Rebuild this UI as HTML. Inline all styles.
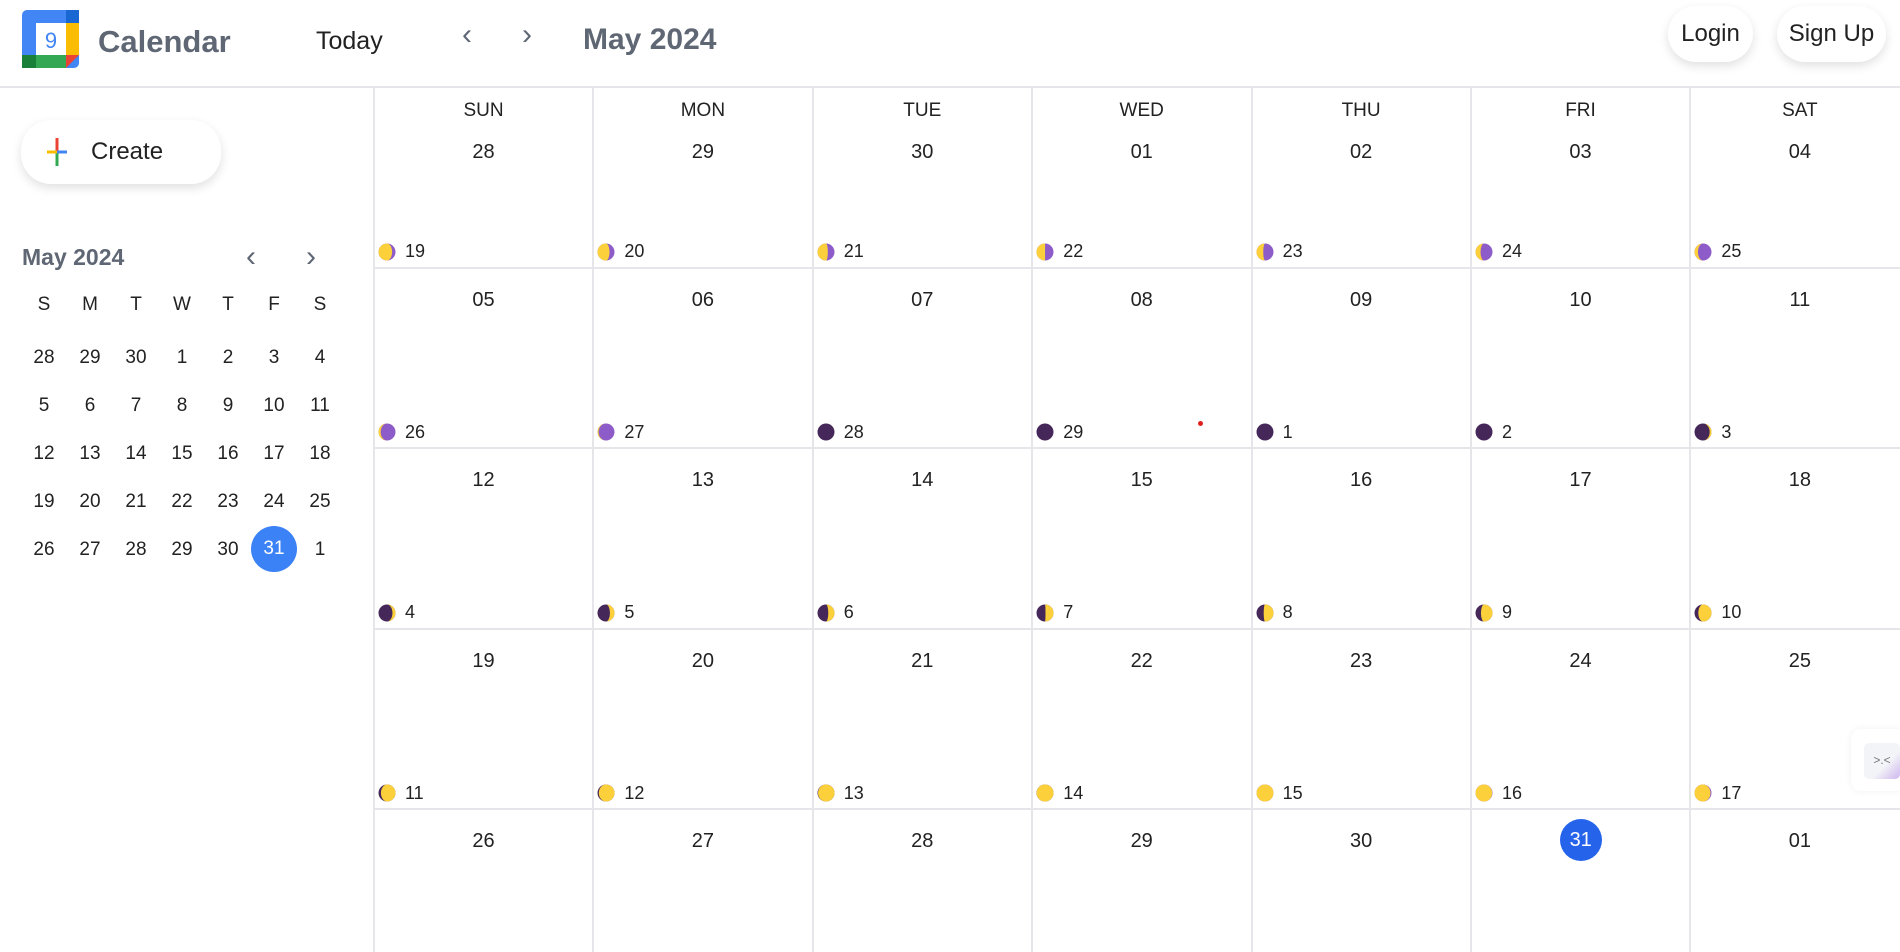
<!DOCTYPE html>
<html><head><meta charset="utf-8"><style>
*{box-sizing:border-box;margin:0;padding:0}
body{width:1900px;height:952px;overflow:hidden;background:#fff;font-family:"Liberation Sans",sans-serif;color:#222;position:relative}
.abs{position:absolute}
.hdr-line{left:0;top:86px;width:1900px;height:2px;background:#e6e6ea}
.pill{background:#fff;border-radius:30px;box-shadow:0 4px 10px rgba(0,0,0,.12);display:flex;align-items:center;justify-content:center;color:#222}
.vl{position:absolute;width:2px;background:#e6e6ea}
.hl{position:absolute;height:2px;background:#e6e6ea}
.cell-date{position:absolute;width:219px;text-align:center;font-size:20px;color:#222}
.dayname{position:absolute;width:219px;text-align:center;font-size:19px;color:#222;top:100px}
.moon{position:absolute;display:flex;align-items:center;font-size:18px;color:#222}
.moon svg{margin-right:9px}
.mini{position:absolute;width:40px;text-align:center;font-size:19px;color:#222}
</style></head><body>
<div class="abs" style="left:22px;top:10px;width:57px;height:58px">
<svg width="57" height="58" viewBox="0 0 57 58"><rect x="0" y="0" width="57" height="58" rx="5" fill="#4285f4"/><rect x="44" y="0" width="13" height="13" fill="#1967d2"/><rect x="44" y="13" width="13" height="32" fill="#fbbc04"/><rect x="0" y="45" width="14" height="13" fill="#188038"/><rect x="14" y="45" width="30" height="13" fill="#34a853"/><polygon points="44,45 57,45 44,58" fill="#ea4335"/><rect x="14" y="13" width="30" height="32" fill="#fff"/><text x="29" y="38" font-size="22" text-anchor="middle" fill="#4285f4" font-family="Liberation Sans">9</text></svg></div>
<div class="abs" style="left:98px;top:24px;font-size:31px;font-weight:bold;color:#5f6775">Calendar</div>
<div class="abs" style="left:316px;top:27px;font-size:25px;color:#222">Today</div>
<div class="abs" style="left:462px;top:18px;font-size:30px;color:#5f6775">&#8249;</div>
<div class="abs" style="left:522px;top:18px;font-size:30px;color:#5f6775">&#8250;</div>
<div class="abs" style="left:583px;top:23px;font-size:30px;font-weight:bold;color:#5f6775">May 2024</div>
<div class="abs pill" style="left:1668px;top:6px;width:85px;height:56px;font-size:24px">Login</div>
<div class="abs pill" style="left:1777px;top:6px;width:109px;height:56px;font-size:24px">Sign Up</div>
<div class="abs hdr-line"></div>

<div class="abs pill" style="left:21px;top:120px;width:200px;height:64px;justify-content:flex-start;padding-left:26px;font-size:24px">
<svg width="20" height="28" viewBox="0 0 20 28" style="margin-right:24px"><rect x="8.5" y="0" width="3" height="14" fill="#ea4335"/><rect x="8.5" y="14" width="3" height="14" fill="#34a853"/><rect x="0" y="12.5" width="10" height="3" fill="#fbbc04"/><rect x="10" y="12.5" width="10" height="3" fill="#4285f4"/></svg>Create</div>
<div class="abs" style="left:22px;top:244px;font-size:23px;font-weight:bold;color:#5f6775">May 2024</div>
<div class="abs" style="left:246px;top:240px;font-size:30px;color:#5f6775">&#8249;</div>
<div class="abs" style="left:306px;top:240px;font-size:30px;color:#5f6775">&#8250;</div>
<div id="mini"></div>
<div id="grid"></div>
<div class="abs" style="left:1198px;top:421px;width:5px;height:5px;border-radius:50%;background:#e02020"></div>
<div class="abs" style="left:1851px;top:729px;width:49px;height:62px;background:#fff;border-radius:10px 0 0 10px;box-shadow:0 0 8px rgba(0,0,0,.06)">
<div style="position:absolute;left:13px;top:14px;width:36px;height:36px;border-radius:5px;background:linear-gradient(135deg,#f3f4f8 60%,#cdb6ee);color:#777;font-size:12px;text-align:center;line-height:34px">&gt;.&lt;</div></div>
<script>
const dayNames=["SUN","MON","TUE","WED","THU","FRI","SAT"];
const dates=["28","29","30","01","02","03","04","05","06","07","08","09","10","11","12","13","14","15","16","17","18","19","20","21","22","23","24","25","26","27","28","29","30","31","01"];
const moonAges=[19,20,21,22,23,24,25,26,27,28,29,1,2,3,4,5,6,7,8,9,10,11,12,13,14,15,16,17,null,null,null,null,null,null,null];
const todayIndex=33;
const miniLetters=["S","M","T","W","T","F","S"];
const miniDays=[28,29,30,1,2,3,4,5,6,7,8,9,10,11,12,13,14,15,16,17,18,19,20,21,22,23,24,25,26,27,28,29,30,31,1];
const miniSelected=33;

const GX=374,CW=219.4,GY=87,RH=180.5;
const colX=c=>GX+c*CW;
const rowY=r=>GY+r*RH;
const grid=document.getElementById('grid');
function add(parent,html,cls,style){const d=document.createElement('div');if(cls)d.className=cls;d.style.cssText=style;d.innerHTML=html;parent.appendChild(d);return d;}
for(let c=0;c<=7;c++){const v=add(grid,'','vl',`left:${colX(c)-1}px;top:${GY}px;height:${952-GY}px`);

}
for(let r=1;r<5;r++){const h=add(grid,'','hl',`left:${GX}px;top:${rowY(r)-1}px;width:${1900-GX}px`);

}
dayNames.forEach((n,c)=>{const d=add(grid,n,'dayname',`left:${colX(c)}px`);

});
function moonSvg(age){
 const r=8.5,cx=9,cy=9;const p=((age+0.1)/29.5)%1;const lit=(1-Math.cos(2*Math.PI*p))/2;
 const waxing=p<0.5;const base=(waxing||lit<0.03)?'#45275a':'#8e5cc9';
 let s=`<svg width="18" height="18" viewBox="0 0 18 18"><circle cx="${cx}" cy="${cy}" r="${r}" fill="${base}"/>`;
 if(lit>0.055){const rx=Math.abs(r*Math.cos(2*Math.PI*p));const cres=lit<0.5;
  let a1,a2;if(waxing){a1=1;a2=cres?0:1;}else{a1=0;a2=cres?1:0;}
  s+=`<path d="M${cx},${cy-r} A${r},${r} 0 0 ${a1} ${cx},${cy+r} A${rx},${r} 0 0 ${a2} ${cx},${cy-r}Z" fill="#fcd03a"/>`;}
 return s+'</svg>';}
dates.forEach((d,i)=>{const c=i%7,r=Math.floor(i/7);
 const off=r===0?54:21;
 let el;
 if(i===todayIndex){el=add(grid,d,'',`position:absolute;left:${colX(c)+CW/2-21}px;top:${rowY(r)+10}px;width:42px;height:42px;border-radius:50%;background:#2563eb;color:#fff;font-size:20px;text-align:center;line-height:42px`);}
 else el=add(grid,d,'cell-date',`left:${colX(c)}px;top:${rowY(r)+off}px`);
 
 
 if(moonAges[i]!=null){const m=add(grid,moonSvg(moonAges[i])+moonAges[i],'moon',`left:${colX(c)+4}px;top:${rowY(r)+154}px`);
 
 }
});
const mini=document.getElementById('mini');
const MX=c=>24+c*46,MY=r=>347+r*48;
miniLetters.forEach((l,c)=>{const d=add(mini,l,'mini',`left:${MX(c)}px;top:294px`);

});
miniDays.forEach((n,i)=>{const c=i%7,r=Math.floor(i/7);let d;
 if(i===miniSelected)d=add(mini,n,'mini',`left:${MX(c)-3}px;top:${MY(r)-13}px;width:46px;height:46px;border-radius:50%;background:#3b82f6;color:#fff;line-height:46px`);
 else d=add(mini,n,'mini',`left:${MX(c)}px;top:${MY(r)}px`);
 
 });
</script>
</body></html>
